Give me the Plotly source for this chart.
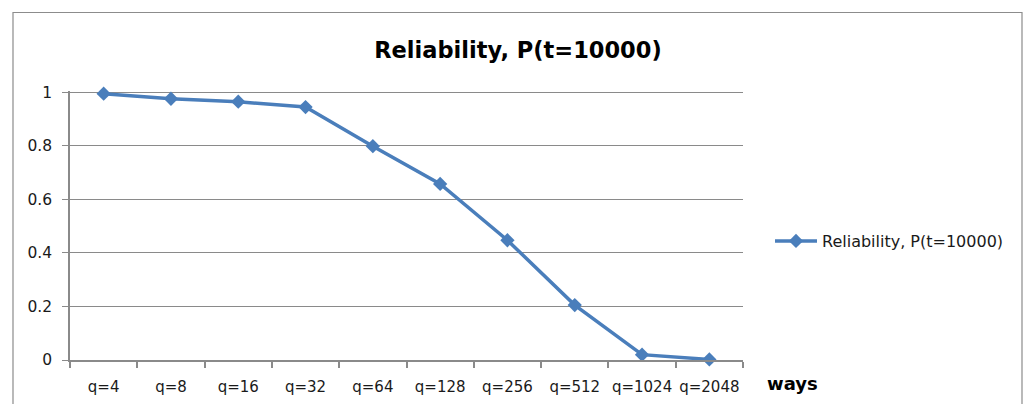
import plotly.graph_objects as go

# Reliability of the cache at t = 10000 for increasing associativity
categories = ["q=4", "q=8", "q=16", "q=32", "q=64", "q=128", "q=256", "q=512", "q=1024", "q=2048"]
reliability = [0.994, 0.975, 0.964, 0.944, 0.798, 0.657, 0.447, 0.205, 0.020, 0.002]
y_ticks = [0, 0.2, 0.4, 0.6, 0.8, 1]
series_name = "Reliability, P(t=10000)"

W, H = 1024, 404
L, R, T, B = 70, 281, 91, 44
plot_w = W - L - R
plot_h = H - T - B

def px_x(x):
    return (x - L) / plot_w

def px_y(y):
    return (H - B - y) / plot_h

BLUE = "#4A7EBB"
GRID = "#8a8a8a"
TEXT = "#1a1a1a"
FONT = "DejaVu Sans"

fig = go.Figure()
fig.add_trace(go.Scatter(
    x=categories,
    y=reliability,
    mode="lines+markers",
    name=series_name,
    line=dict(color=BLUE, width=3.5),
    marker=dict(symbol="diamond", size=11, color=BLUE),
    cliponaxis=False,
))

fig.update_layout(
    width=W,
    height=H,
    margin=dict(l=L, r=R, t=T, b=B, autoexpand=False),
    paper_bgcolor="white",
    plot_bgcolor="white",
    font=dict(family=FONT, size=15, color=TEXT),
    title=dict(
        text="<b>Reliability, P(t=10000)</b>",
        font=dict(family=FONT, size=22.5, color="#000000"),
        x=518 / W, xanchor="center", xref="container",
        y=1 - 50 / H, yanchor="middle", yref="container",
    ),
    showlegend=True,
    legend=dict(
        x=px_x(770), xanchor="left",
        y=px_y(241), yanchor="middle",
        font=dict(family=FONT, size=16, color=TEXT),
        bgcolor="rgba(0,0,0,0)",
        borderwidth=0,
        itemwidth=42,
    ),
    xaxis=dict(
        type="category",
        range=[-0.5, len(categories) - 0.5],
        automargin=False,
        showgrid=False,
        showline=True,
        linecolor=GRID,
        linewidth=1.5,
        ticks="outside",
        tickson="boundaries",
        ticklen=6,
        tickcolor=GRID,
        tickwidth=1.5,
        tickangle=0,
        ticklabelstandoff=12,
        tickfont=dict(family=FONT, size=15, color=TEXT),
    ),
    yaxis=dict(
        range=[0, 1.004],
        tickvals=y_ticks,
        automargin=False,
        showgrid=True,
        gridcolor=GRID,
        gridwidth=1,
        zeroline=False,
        showline=True,
        linecolor=GRID,
        linewidth=1.5,
        ticks="outside",
        ticklen=6,
        tickcolor=GRID,
        tickwidth=1,
        ticklabelstandoff=7,
        tickfont=dict(family=FONT, size=15.5, color=TEXT),
    ),
    annotations=[
        dict(
            text="<b>ways</b>",
            xref="paper", yref="paper",
            x=px_x(792), y=px_y(383),
            xanchor="center", yanchor="middle",
            showarrow=False,
            font=dict(family=FONT, size=18, color="#000000"),
        )
    ],
    shapes=[
        # chart frame
        dict(
            type="rect", xref="paper", yref="paper",
            x0=px_x(13), x1=px_x(1022), y0=px_y(420), y1=px_y(12.5),
            line=dict(color="#8c8c8c", width=1.2),
            fillcolor="rgba(0,0,0,0)",
            layer="below",
        )
    ],
)

fig.write_html("out.html")
